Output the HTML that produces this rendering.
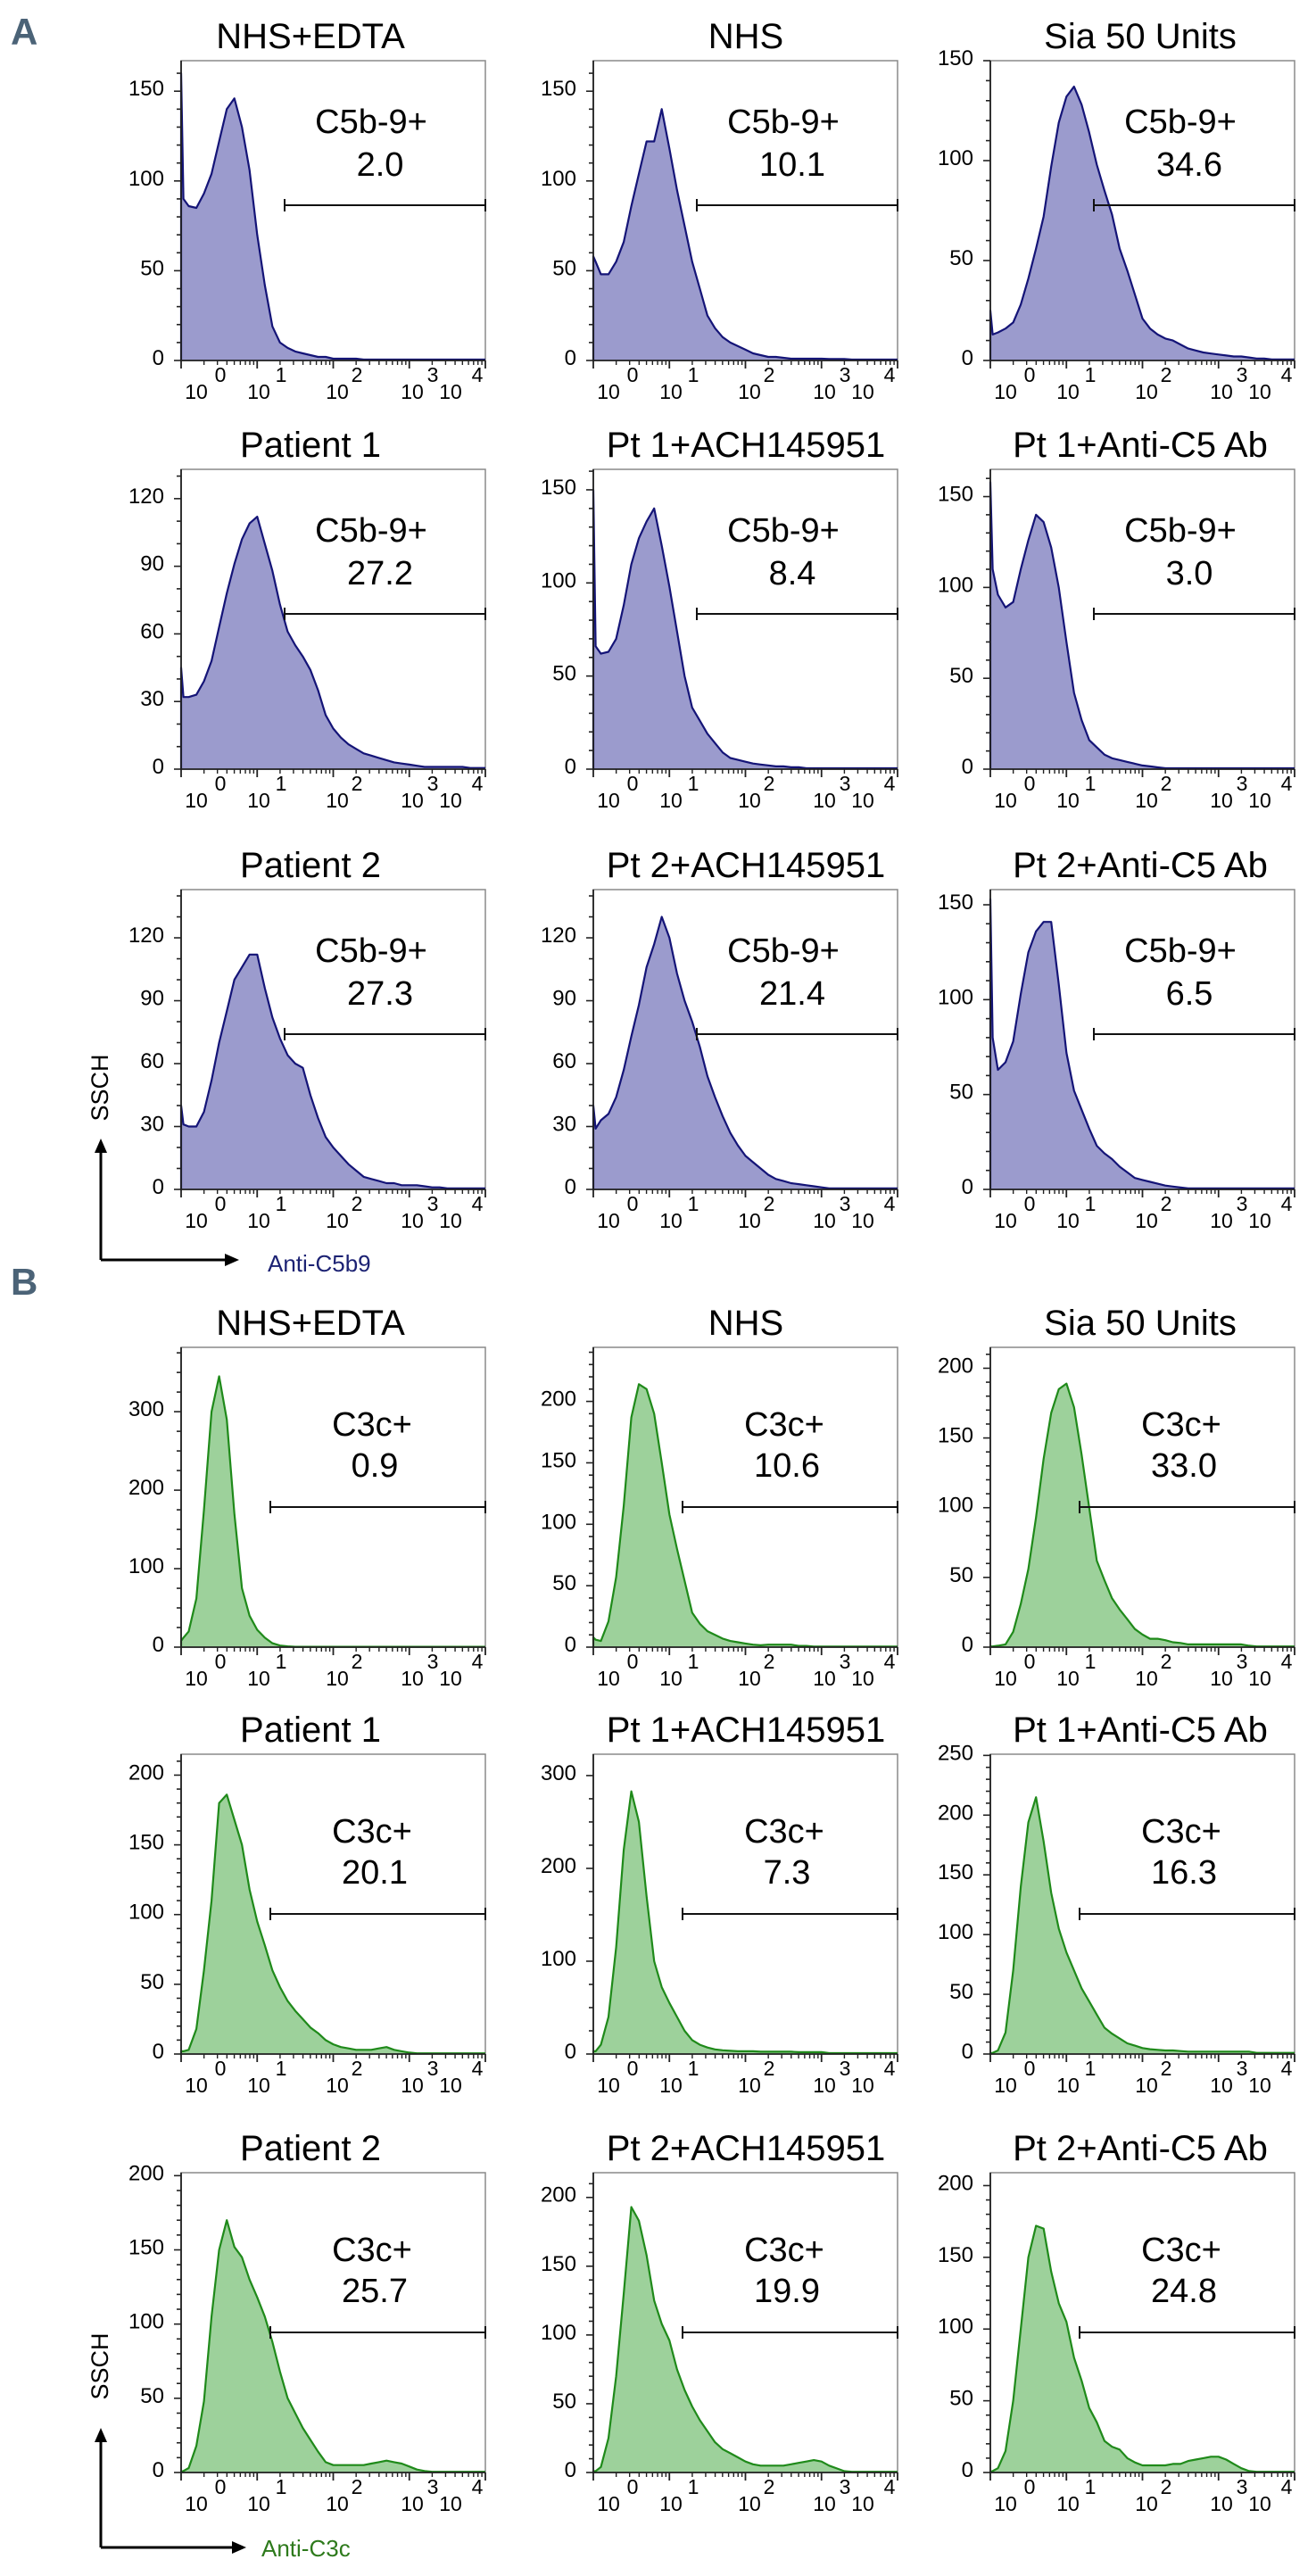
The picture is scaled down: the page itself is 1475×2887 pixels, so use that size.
<!DOCTYPE html>
<html><head><meta charset="utf-8">
<style>
html,body{margin:0;padding:0;background:#fff;}
svg{display:block;font-family:"Liberation Sans",Arial,sans-serif;}
</style></head>
<body>
<svg id="fig" width="1475" height="2887" viewBox="0 0 1475 2887" xmlns="http://www.w3.org/2000/svg">
<rect x="0" y="0" width="1475" height="2887" fill="#fff"/>
<text x="12" y="50" font-size="42" font-weight="bold" fill="#4b6377" font-family="'Liberation Sans Narrow','Liberation Sans',sans-serif">A</text>
<text x="12" y="1451" font-size="42" font-weight="bold" fill="#4b6377" font-family="'Liberation Sans Narrow','Liberation Sans',sans-serif">B</text>
<g id="panels"></g>
<g>
<line x1="113" y1="1290" x2="113" y2="1412" stroke="#000" stroke-width="3"/>
<polygon points="113,1276 106,1292 120,1292" fill="#000"/>
<line x1="113" y1="1412" x2="255" y2="1412" stroke="#000" stroke-width="3"/>
<polygon points="268,1412 252,1405 252,1419" fill="#000"/>
<text transform="translate(121,1219) rotate(-90)" text-anchor="middle" font-size="27" fill="#000">SSCH</text>
<text x="300" y="1425" font-size="26" fill="#1c2273">Anti-C5b9</text>
</g>
<g>
<line x1="113" y1="2735" x2="113" y2="2855" stroke="#000" stroke-width="3"/>
<polygon points="113,2721 106,2737 120,2737" fill="#000"/>
<line x1="113" y1="2855" x2="262" y2="2855" stroke="#000" stroke-width="3"/>
<polygon points="276,2855 260,2848 260,2862" fill="#000"/>
<text transform="translate(121,2652) rotate(-90)" text-anchor="middle" font-size="27" fill="#000">SSCH</text>
<text x="293" y="2865" font-size="26" fill="#2e7a1c">Anti-C3c</text>
</g>
</svg>
<script>
// shared x categories (log10 decades)
const xs=[0,0.03,0.1,0.2,0.3,0.4,0.5,0.6,0.7,0.8,0.9,1.0,1.1,1.2,1.3,1.4,1.5,1.6,1.7,1.8,1.9,2.0,2.1,2.2,2.3,2.4,2.5,2.6,2.7,2.8,2.9,3.0,3.1,3.2,3.3,3.4,3.5,3.6,3.7,3.8,3.9,4.0];
const titles=["NHS+EDTA","NHS","Sia 50 Units","Patient 1","Pt 1+ACH145951","Pt 1+Anti-C5 Ab","Patient 2","Pt 2+ACH145951","Pt 2+Anti-C5 Ab",
"NHS+EDTA","NHS","Sia 50 Units","Patient 1","Pt 1+ACH145951","Pt 1+Anti-C5 Ab","Patient 2","Pt 2+ACH145951","Pt 2+Anti-C5 Ab"];
const gateValues=["2.0","10.1","34.6","27.2","8.4","3.0","27.3","21.4","6.5","0.9","10.6","33.0","20.1","7.3","16.3","25.7","19.9","24.8"];
const yMax=[167,167,150,133,161,165,143,143,158,382,244,215,215,323,251,202,218,209];
const yStep=[50,50,50,30,50,50,30,30,50,100,50,50,50,100,50,50,50,50];
// series A (C5b-9)
const a1=[160,90,86,85,93,104,122,140,146,130,106,70,42,19,10,7,5,4,3,2,2,1,1,1,1,0.5,0.5,0.5,0.5,0.5,0.5,0.5,0.5,0.5,0.5,0.5,0.5,0.5,0.5,0.5,0.5,0.5];
const a2=[58,55,48,48,55,66,86,104,122,122,140,118,95,75,55,40,25,18,13,10,8,6,4,3,2,2,1.5,1,1,1,1,1,0.8,0.8,0.8,0.5,0.5,0.5,0.5,0.5,0.5,0.5];
const a3=[25,13,14,16,19,28,41,56,72,97,119,132,137,128,114,98,85,73,56,45,33,21,16,13,11,10,8,6,5,4,3.5,3,2.5,2,2,1.5,1,1,0.5,0.5,0.5,0.5];
const a4=[45,32,32,33,39,48,63,78,91,102,109,112,100,88,73,61,55,50,44,35,24,18,14,11,9,7,6,5,4,3,2.5,2,1.5,1,1,1,1,1,1,0.5,0.5,0.5];
const a5=[150,66,62,63,70,88,110,124,133,140,120,98,74,50,33,26,19,14,9,6,5,4,3,2.5,2,1.5,1.5,1,1,0.5,0.5,0.5,0.5,0.5,0.5,0.5,0.5,0.5,0.5,0.5,0.5,0.5];
const a6=[158,110,96,89,92,110,126,140,136,122,100,70,42,27,16,12,8,6,5,4,3,2,1.5,1,0.5,0.5,0.5,0.5,0.5,0.5,0.5,0.5,0.5,0.5,0.5,0.5,0.5,0.5,0.5,0.5,0.5,0.5];
const a7=[40,31,30,30,37,52,70,85,100,106,112,112,96,82,72,64,60,58,45,34,25,20,16,12,9,6,5,4,3,3,2,2,2,1.5,1,1,0.5,0.5,0.5,0.5,0.5,0.5];
const a8=[40,29,33,36,44,57,73,88,106,117,130,120,103,90,80,68,54,44,35,27,21,16,13,10,7,5,4,3,2.5,2,1.5,1,0.5,0.5,0.5,0.5,0.5,0.5,0.5,0.5,0.5,0.5];
const a9=[153,80,63,67,78,103,125,136,141,141,108,72,52,42,32,23,19,16,12,9,6,5,4,3,2,1.5,1,0.5,0.5,0.5,0.5,0.5,0.5,0.5,0.5,0.5,0.5,0.5,0.5,0.5,0.5,0.5];
// series B (C3c)
const b1=[8,12,20,62,175,300,345,290,170,75,40,22,12,5,2,1,0.5,0.5,0.5,0.5,0.5,0.5,0.5,0.5,0.5,0.5,0.5,0.5,0.5,0.5,0.5,0.5,0.5,0.5,0.5,0.5,0.5,0.5,0.5,0.5,0.5,0.5];
const b2=[8,6,5,21,57,115,187,214,210,190,150,108,80,54,28,19,13,10,7,5,4,3,2,1.5,2,2,2,2,1,1,0.5,0.5,0.5,0.5,0.5,0.5,0.5,0.5,0.5,0.5,0.5,0.5];
const b3=[0.5,0.5,1,2,11,31,56,93,135,168,185,189,172,138,100,62,48,35,27,20,13,9,6,6,5,3.5,3,2,2,2,2,2,2,2,2,1,0.5,0.5,0.5,0.5,0.5,0.5];
const b4=[2,2,3,18,60,110,180,186,168,150,118,95,78,60,48,38,31,25,19,15,10,7,5,4,3,3,3,4,5,3,2,1,0.5,0.5,0.5,0.5,0.5,0.5,0.5,0.5,0.5,0.5];
const b5=[3,3,10,40,115,220,283,250,170,100,72,55,40,25,15,10,7,5,4,3.5,3,3,3,2.5,2.5,2.5,2.5,2.5,2,2,2,2,1,1,1,1,1,1,1,1,1,1];
const b6=[0.5,1,3,18,70,140,194,215,178,135,105,85,70,55,44,33,22,17,13,9,7,5,4,3.5,3,3,2.5,2,2,2,2,2,2,2,2,2,1,1,1,1,1,1];
const b7=[0.5,1,3,18,48,105,150,170,152,145,130,118,105,88,68,50,40,30,22,14,7,5,5,5,5,5,6,7,8,7,6,4,2,1,0.5,0.5,0.5,0.5,0.5,0.5,0.5,0.5];
const b8=[1,1,4,25,70,130,193,183,158,125,108,96,75,60,48,38,30,22,17,14,11,8,6,5,5,5,5,6,7,8,9,8,5,3,1,0.5,0.5,0.5,0.5,0.5,0.5,0.5];
const b9=[0.5,1,3,15,50,100,150,172,170,140,118,105,80,64,45,35,22,18,16,10,7,5,5,5,5,6,6,8,9,10,11,11,9,6,3,1,0.5,0.5,0.5,0.5,0.5,0.5];
const seriesList=[a1,a2,a3,a4,a5,a6,a7,a8,a9,b1,b2,b3,b4,b5,b6,b7,b8,b9];

const NS="http://www.w3.org/2000/svg";
const colLeft=[203,665,1110];
const colTitleX=[348,836,1278];
const rowTop=[68,526,997,1510,1966,2435];
const PW=341, PH=336;
const root=document.getElementById('panels');
function mk(tag,attrs,parent){const e=document.createElementNS(NS,tag);for(const k in attrs)e.setAttribute(k,attrs[k]);parent.appendChild(e);return e;}

for(let p=0;p<18;p++){
  const isA=p<9, idx=p%9, r=Math.floor(p/9)*3+Math.floor(idx/3), c=idx%3;
  const L=colLeft[c], T=rowTop[r], B=T+PH, R=L+PW;
  const xScale=v=>L+v/4*PW;
  const yScale=v=>B-v/yMax[p]*PH;
  const g=mk('g',{},root);
  
  
  const t=mk('text',{x:colTitleX[c],y:T-14,'text-anchor':'middle','font-size':40,fill:'#000'},g);
  t.textContent=titles[p];
  
  
  const fr=mk('rect',{x:L,y:T,width:PW,height:PH,fill:'none',stroke:'#8a8a8a','stroke-width':1.5},g);
  
  
  const vals=seriesList[p];
  let d='M'+xScale(xs[0]).toFixed(1)+','+B;
  for(let i=0;i<xs.length;i++){d+=' L'+xScale(xs[i]).toFixed(1)+','+yScale(vals[i]).toFixed(1);}
  let dl='M'+xScale(xs[0]).toFixed(1)+','+B;
  for(let i=0;i<xs.length;i++){dl+=' L'+xScale(xs[i]).toFixed(1)+','+yScale(vals[i]).toFixed(1);}
  d+=' L'+xScale(xs[xs.length-1]).toFixed(1)+','+B+' Z';
  const area=mk('path',{d:d,fill:isA?'#9b9bcd':'#9dd19b',stroke:'none'},g);
  
  
  const line=mk('path',{d:dl,fill:'none',stroke:isA?'#141477':'#1f8a1a','stroke-width':2.2,'stroke-linejoin':'round'},g);
  
  
  mk('line',{x1:L,y1:T,x2:L,y2:B+1,stroke:'#222','stroke-width':1.8},g);
  mk('line',{x1:L-1,y1:B,x2:R,y2:B,stroke:'#222','stroke-width':1.8},g);
  const st=yStep[p], minor=(st===100?25:10);
  for(let v=0;v<=yMax[p];v+=minor){
    const y=yScale(v), major=(v%st===0);
    mk('line',{x1:L-(major?8:5),y1:y,x2:L,y2:y,stroke:'#222','stroke-width':1.6},g);
    if(major){
      const tl=mk('text',{x:L-19,y:y+5,'text-anchor':'end','font-size':24,fill:'#000'},g);
      tl.textContent=String(v);
      
      
    }
  }
  for(let dcd=0;dcd<=4;dcd++){
    const x=xScale(dcd);
    mk('line',{x1:x,y1:B,x2:x,y2:B+9,stroke:'#222','stroke-width':1.8},g);
    if(dcd<4){for(let m=2;m<=9;m++){const xm=xScale(dcd+Math.log10(m));mk('line',{x1:xm,y1:B,x2:xm,y2:B+5,stroke:'#222','stroke-width':1.4},g);}}
  }
  const tenOff=[17,87,175,259,302], supOff=[44,112,197,282,332];
  for(let dcd=0;dcd<=4;dcd++){
    const tx=mk('text',{x:L+tenOff[dcd],y:B+43,'text-anchor':'middle','font-size':23,fill:'#000'},g);
    tx.textContent='10';
    
    
    const sx=mk('text',{x:L+supOff[dcd],y:B+24,'text-anchor':'middle','font-size':23,fill:'#000'},g);
    sx.textContent=String(dcd);
    
    
  }
  const gx=L+(isA?116:100), gy=T+(isA?162:179);
  const gate=mk('g',{},g);
  
  
  mk('line',{x1:gx,y1:gy,x2:R,y2:gy,stroke:'#111','stroke-width':2},gate);
  mk('line',{x1:gx,y1:gy-7,x2:gx,y2:gy+7,stroke:'#111','stroke-width':2},gate);
  mk('line',{x1:R,y1:gy-7,x2:R,y2:gy+7,stroke:'#111','stroke-width':2},gate);
  const gl=mk('text',{x:L+(isA?213:214),y:T+(isA?81:99),'text-anchor':'middle','font-size':38,fill:'#000'},g);
  gl.textContent=isA?'C5b-9+':'C3c+';
  
  
  const gv=mk('text',{x:L+(isA?223:217),y:T+(isA?129:145),'text-anchor':'middle','font-size':38,fill:'#000'},g);
  gv.textContent=gateValues[p];
  
  
}
</script>
</body></html>
